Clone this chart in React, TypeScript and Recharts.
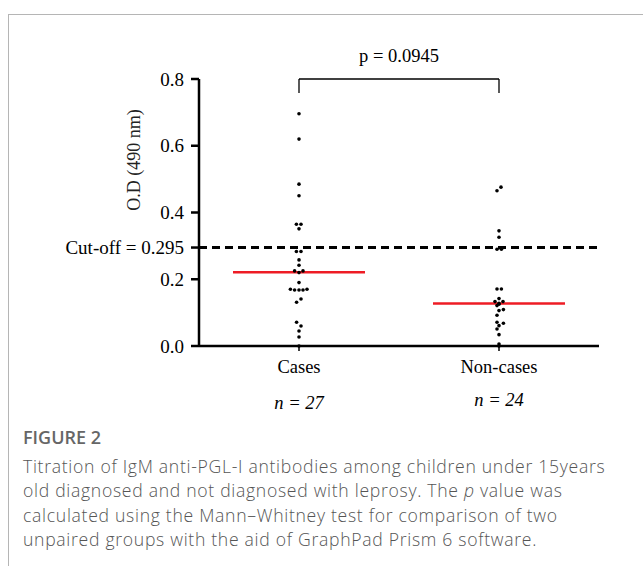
import React from "react";
import {
  ScatterChart,
  Scatter,
  XAxis,
  YAxis,
  ReferenceLine,
} from "recharts";

const categories = ["Cases", "Non-cases"];
const sampleSizes = ["n = 27", "n = 24"];

// O.D values, with the small sideways spread of each dot
const casesValues = [
  0.696, 0.62, 0.485, 0.45, 0.365, 0.365, 0.351, 0.283, 0.283, 0.258, 0.242,
  0.225, 0.225, 0.22, 0.19, 0.17, 0.168, 0.168, 0.168, 0.17, 0.141, 0.131,
  0.071, 0.06, 0.045, 0.027, 0.0,
];
const casesOffsets = [
  0, 0, 0, 0, -0.013, 0.01, 0, -0.013, 0.01, 0, 0, -0.022, 0.02, 0, 0, -0.043,
  -0.022, 0, 0.02, 0.04, 0.01, -0.012, -0.012, 0.01, 0, 0, 0,
];
const nonCasesValues = [
  0.476, 0.465, 0.345, 0.326, 0.29, 0.29, 0.171, 0.171, 0.142, 0.133, 0.133,
  0.128, 0.125, 0.121, 0.109, 0.106, 0.092, 0.071, 0.068, 0.061, 0.051, 0.034,
  0.006, 0.0,
];
const nonCasesOffsets = [
  0.01, -0.01, 0, 0, -0.01, 0.012, -0.01, 0.012, 0, -0.02, 0.02, 0, 0, -0.01,
  0.022, 0, -0.01, -0.01, 0.022, 0, -0.01, 0, 0, 0,
];
const medians = [0.221, 0.127];
const cutOff = 0.295;
const pValue = "p = 0.0945";
const yTicks = [0, 0.2, 0.295, 0.4, 0.6, 0.8];

const captionLines = [
  "Titration of IgM anti-PGL-I antibodies among children under 15years",
  "old diagnosed and not diagnosed with leprosy. The |p| value was",
  "calculated using the Mann–Whitney test for comparison of two",
  "unpaired groups with the aid of GraphPad Prism 6 software.",
];

const casesPoints = casesValues.map((v, i) => ({ x: 1 + casesOffsets[i], y: v }));
const nonCasesPoints = nonCasesValues.map((v, i) => ({
  x: 2 + nonCasesOffsets[i],
  y: v,
}));

const serif = "'Liberation Serif', 'Times New Roman', serif";
const sans = "'Open Sans', 'Noto Sans', sans-serif";

const Dot = (props: any) => (
  <circle cx={props.cx} cy={props.cy} r={1.8} fill="#000" />
);

const XTick = (props: any) => {
  const { x, y, payload } = props;
  const i = Math.round(payload.value) - 1;
  return (
    <g>
      <text x={x} y={y + 20} textAnchor="middle" fontFamily={serif} fontSize={18.5} fill="#000">
        {categories[i]}
      </text>
      <text x={x} y={y + 56 - i * 3} textAnchor="middle" fontFamily={serif} fontSize={18.5} fontStyle="italic" fill="#000">
        {sampleSizes[i]}
      </text>
    </g>
  );
};

const YTick = (props: any) => {
  const { x, y, payload } = props;
  const label = payload.value === cutOff ? `Cut-off = ${cutOff}` : payload.value.toFixed(1);
  return (
    <text x={x - 4} y={y} dy="0.35em" textAnchor="end" fontFamily={serif} fontSize={19} fill="#000">
      {label}
    </text>
  );
};

const YLabel = () => (
  <text
    x={134}
    y={160}
    transform="rotate(-90 134 160)"
    textAnchor="middle"
    dominantBaseline="central"
    fontFamily={serif}
    fontSize={18}
    fill="#222"
  >
    O.D (490 nm)
  </text>
);

export default function App() {
  return (
    <div style={{ position: "absolute", left: 0, top: 0, width: 643, height: 566, background: "#fff" }}>
      <div
        style={{
          position: "absolute",
          left: 8,
          top: 14,
          width: 635,
          height: 552,
          borderTop: "1px solid #b5b5b5",
          borderLeft: "1px solid #b5b5b5",
        }}
      />
      <div style={{ position: "absolute", left: 0, top: 0 }}>
        <ScatterChart width={643} height={430} margin={{ top: 79, right: 44, bottom: 0, left: 0 }}>
          <XAxis
            type="number"
            dataKey="x"
            domain={[0.5, 2.5]}
            ticks={[1, 2]}
            height={84}
            tick={<XTick />}
            tickSize={5}
            axisLine={{ stroke: "#000", strokeWidth: 2.5 }}
            tickLine={{ stroke: "#000", strokeWidth: 1.5 }}
          />
          <YAxis
            type="number"
            dataKey="y"
            domain={[0, 0.8]}
            ticks={yTicks}
            interval={0}
            width={199}
            tick={<YTick />}
            tickSize={8}
            tickMargin={3}
            axisLine={{ stroke: "#000", strokeWidth: 2.5 }}
            tickLine={{ stroke: "#000", strokeWidth: 2.5 }}
            label={<YLabel />}
          />
          <ReferenceLine
            y={cutOff}
            stroke="#000"
            strokeWidth={3}
            strokeDasharray="8 5"
          />
          <Scatter data={casesPoints} shape={<Dot />} isAnimationActive={false} />
          <Scatter data={nonCasesPoints} shape={<Dot />} isAnimationActive={false} />
          {medians.map((m, i) => (
            <ReferenceLine
              key={i}
              segment={[
                { x: i + 1 - 0.33, y: m },
                { x: i + 1 + 0.33, y: m },
              ]}
              stroke="#ee1c25"
              strokeWidth={2.5}
            />
          ))}
          <ReferenceLine
            segment={[
              { x: 1, y: 0.8 },
              { x: 2, y: 0.8 },
            ]}
            stroke="#000"
            strokeWidth={1.3}
            ifOverflow="visible"
            label={{
              value: pValue,
              position: "top",
              offset: 17,
              fontFamily: serif,
              fontSize: 18.5,
              fill: "#000",
            }}
          />
          <ReferenceLine
            segment={[
              { x: 1, y: 0.8 },
              { x: 1, y: 0.758 },
            ]}
            stroke="#000"
            strokeWidth={1.3}
            ifOverflow="visible"
          />
          <ReferenceLine
            segment={[
              { x: 2, y: 0.8 },
              { x: 2, y: 0.758 },
            ]}
            stroke="#000"
            strokeWidth={1.3}
            ifOverflow="visible"
          />
        </ScatterChart>
      </div>
      <div
        style={{
          position: "absolute",
          left: 23,
          top: 425,
          fontFamily: sans,
          fontSize: 18,
          fontWeight: 600,
          color: "#666",
        }}
      >
        FIGURE 2
      </div>
      {captionLines.map((line, i) => {
        const parts = line.split("|");
        return (
          <div
            key={i}
            style={{
              position: "absolute",
              left: 23,
              top: 454 + i * 24.3,
              height: 24,
              fontFamily: sans,
              fontSize: 17.6,
              fontWeight: 300,
              lineHeight: "24px",
              letterSpacing: 0.7,
              color: "#555",
              whiteSpace: "nowrap",
            }}
          >
            {parts.map((p, j) => (j % 2 === 1 ? <i key={j}>{p}</i> : <span key={j}>{p}</span>))}
          </div>
        );
      })}
    </div>
  );
}
